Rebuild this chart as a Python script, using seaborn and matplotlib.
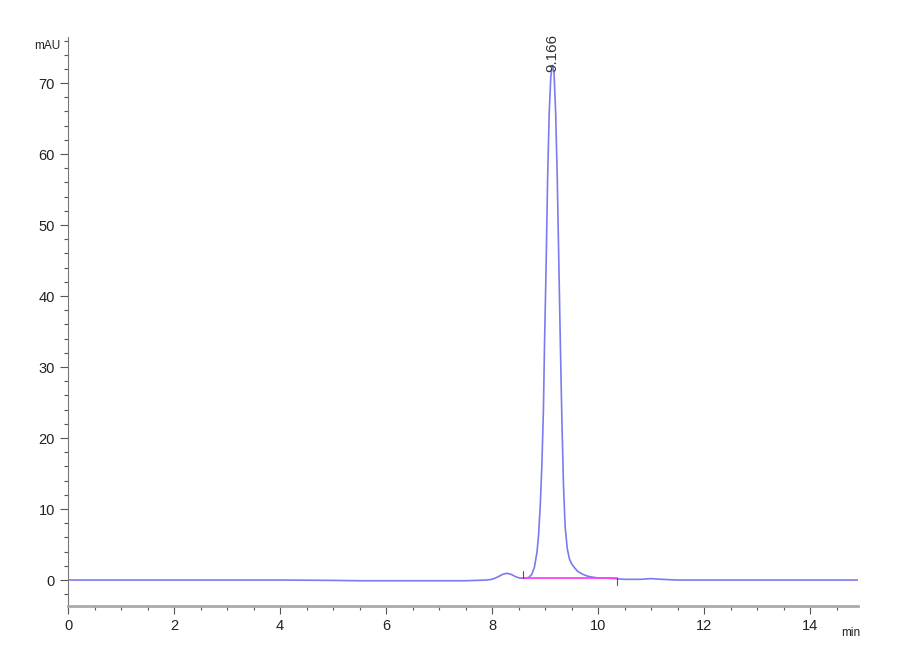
import pandas as pd
import matplotlib
matplotlib.use("Agg")
import matplotlib.pyplot as plt
from matplotlib.ticker import MultipleLocator
import seaborn as sns

# ---------------------------------------------
# chromatogram trace
# ---------------------------------------------
time_min = [0.0, 1.0, 2.0, 3.0, 4.0, 5.0, 5.5, 6.5, 7.5, 7.9,
            8.00, 8.10, 8.20, 8.28, 8.36, 8.45, 8.52, 8.60, 8.65, 8.70,
            8.75, 8.80, 8.85, 8.88, 8.91, 8.94, 8.97, 8.99, 9.02, 9.05,
            9.08, 9.11, 9.14, 9.17, 9.20, 9.23, 9.26, 9.29, 9.32, 9.35,
            9.38, 9.42, 9.46, 9.50, 9.56, 9.62, 9.70, 9.80, 9.90, 10.0,
            10.2, 10.5, 10.8, 11.0, 11.2, 11.5, 12.0, 13.0, 14.0, 14.9]
signal_mau = [0.0, 0.0, 0.0, 0.0, 0.0, -0.05, -0.1, -0.1, -0.1, 0.0,
              0.1, 0.4, 0.8, 0.95, 0.8, 0.45, 0.28, 0.25, 0.25, 0.4,
              0.8, 1.8, 4.0, 6.5, 10.5, 16.0, 24.0, 33.0, 44.0, 57.0,
              66.0, 71.0, 72.5, 71.5, 66.0, 57.0, 45.0, 33.0, 22.0, 13.0,
              7.5, 4.4, 3.0, 2.3, 1.7, 1.2, 0.85, 0.55, 0.4, 0.3,
              0.25, 0.1, 0.1, 0.2, 0.1, 0.0, 0.0, 0.0, 0.0, 0.0]

# integration baseline
base_time = [8.58, 10.35]
base_level = [0.25, 0.25]

peak_rt = 9.14
peak_label = "9.166"
peak_height = 72.5

df = pd.DataFrame({"time": time_min, "signal": signal_mau})

sns.set_style("ticks")
plt.rcParams["font.family"] = ["Liberation Sans Narrow", "Liberation Sans", "DejaVu Sans"]

fig = plt.figure(figsize=(9, 6.6), dpi=100)
ax = fig.add_axes([0.0756, 0.0818, 0.8774, 0.8622])

sns.lineplot(data=df, x="time", y="signal", ax=ax, color="#7b7bef", linewidth=1.2)
ax.plot(base_time, base_level, color="#ff44ee", linewidth=1.3)
# baseline start / end marks
ax.plot([base_time[0], base_time[0]], [base_level[0], base_level[0] + 1.0], color="#555555", linewidth=0.8)
ax.plot([base_time[1], base_time[1]], [base_level[1], base_level[1] - 1.0], color="#555555", linewidth=0.8)

ax.text(peak_rt, peak_height - 1.0, peak_label, rotation=90, ha="center", va="bottom",
        fontsize=11, color="#333333")

ax.set_xlim(0, 14.9)
ax.set_ylim(-3.66, 76.5)
ax.xaxis.set_major_locator(MultipleLocator(2))
ax.xaxis.set_minor_locator(MultipleLocator(0.5))
ax.yaxis.set_major_locator(MultipleLocator(10))
ax.yaxis.set_minor_locator(MultipleLocator(2))

ax.set_xlabel("")
ax.set_ylabel("")
ax.tick_params(axis="both", which="major", labelsize=10.5, colors="#555555", labelcolor="#222222",
               length=6, width=0.8)
ax.tick_params(axis="both", which="minor", colors="#555555", length=3, width=0.8)

sns.despine(ax=ax)
ax.spines["left"].set_color("#777777")
ax.spines["bottom"].set_color("#aaaaaa")
ax.spines["bottom"].set_linewidth(2)

fig.text(60 / 900, 1 - 46 / 660, "mAU", fontsize=8.5, ha="right", va="center", color="#222222")
fig.text(841 / 900, 1 - 633 / 660, "min", fontsize=8.5, ha="left", va="center", color="#222222")

fig.savefig("out.png", dpi=100)
